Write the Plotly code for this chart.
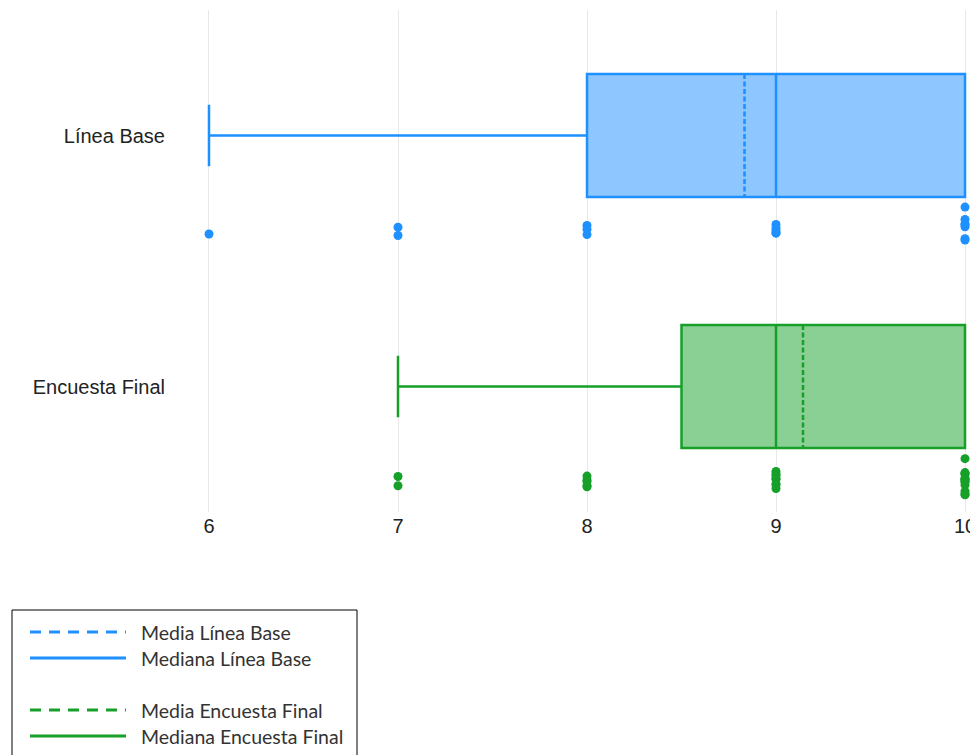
import plotly.graph_objects as go

# ---- data ----
categories = ["Línea Base", "Encuesta Final"]
scores_base = [6] * 1 + [7] * 2 + [8] * 3 + [9] * 5 + [10] * 7
scores_final = [7] * 2 + [8] * 5 + [9] * 8 + [10] * 13
x_ticks = [6, 7, 8, 9, 10]
legend_labels = ["Media Línea Base", "Mediana Línea Base",
                 "Media Encuesta Final", "Mediana Encuesta Final"]

BLUE = "#1E90FF"
GREEN = "#16A02A"

OFF = 8  # page body margin
W, H = 970, 747
ML, MR, MT, MB = 172, 7, 2, 243
PW = W - ML - MR
PH = H - MT - MB


def px(x):
    return (x - OFF - ML) / PW


def py(y):
    return (H - MB - (y - OFF)) / PH


fig = go.Figure()
for name, vals, col, fill in [
    (categories[0], scores_base, BLUE, "rgba(30,144,255,0.5)"),
    (categories[1], scores_final, GREEN, "rgba(22,160,42,0.5)"),
]:
    fig.add_trace(go.Box(
        x=vals, y=[name] * len(vals), name=name, orientation="h",
        boxpoints="all", jitter=0.45, pointpos=1.55, boxmean=True,
        line=dict(color=col, width=2.5), fillcolor=fill,
        marker=dict(color=col, size=9), whiskerwidth=0.5,
        showlegend=False,
    ))

fig.update_layout(
    width=W, height=H,
    margin=dict(l=ML, r=MR, t=MT, b=MB, autoexpand=False),
    plot_bgcolor="white", paper_bgcolor="white",
    boxgap=0.3,
    font=dict(family="Liberation Sans, Arial, sans-serif", size=20, color="#222"),
    xaxis=dict(range=[5.8466, 10.0317], tickvals=x_ticks, showgrid=True,
               gridcolor="#e8e8e8", gridwidth=1, zeroline=False, showline=False,
               ticks="", automargin=False, tickfont=dict(size=20, color="#222")),
    yaxis=dict(type="category", categoryorder="array", categoryarray=categories,
               range=[1.5, -0.5], showgrid=False, zeroline=False, showline=False,
               ticks="", automargin=False, ticklabelstandoff=14,
               tickfont=dict(size=20, color="#222")),
)

# ---- manual legend ----
shapes = [dict(type="rect", xref="paper", yref="paper",
               x0=px(12), x1=px(357), y0=py(610), y1=py(757),
               line=dict(color="black", width=1), fillcolor="rgba(0,0,0,0)")]
rows = [(632, BLUE, "dash"), (658, BLUE, "solid"),
        (710, GREEN, "dash"), (736, GREEN, "solid")]
annotations = []
for (yy, col, dash), lab in zip(rows, legend_labels):
    shapes.append(dict(type="line", xref="paper", yref="paper",
                       x0=px(30), x1=px(126), y0=py(yy), y1=py(yy),
                       line=dict(color=col, width=3,
                                 dash="11px,8px" if dash == "dash" else "solid")))
    annotations.append(dict(xref="paper", yref="paper", x=px(139), y=py(yy),
                            text=lab, showarrow=False, xanchor="left",
                            yanchor="middle",
                            font=dict(family="Lato, Open Sans, sans-serif",
                                      size=19.5, color="#333")))
fig.update_layout(shapes=shapes, annotations=annotations)

fig.write_html("out.html")
